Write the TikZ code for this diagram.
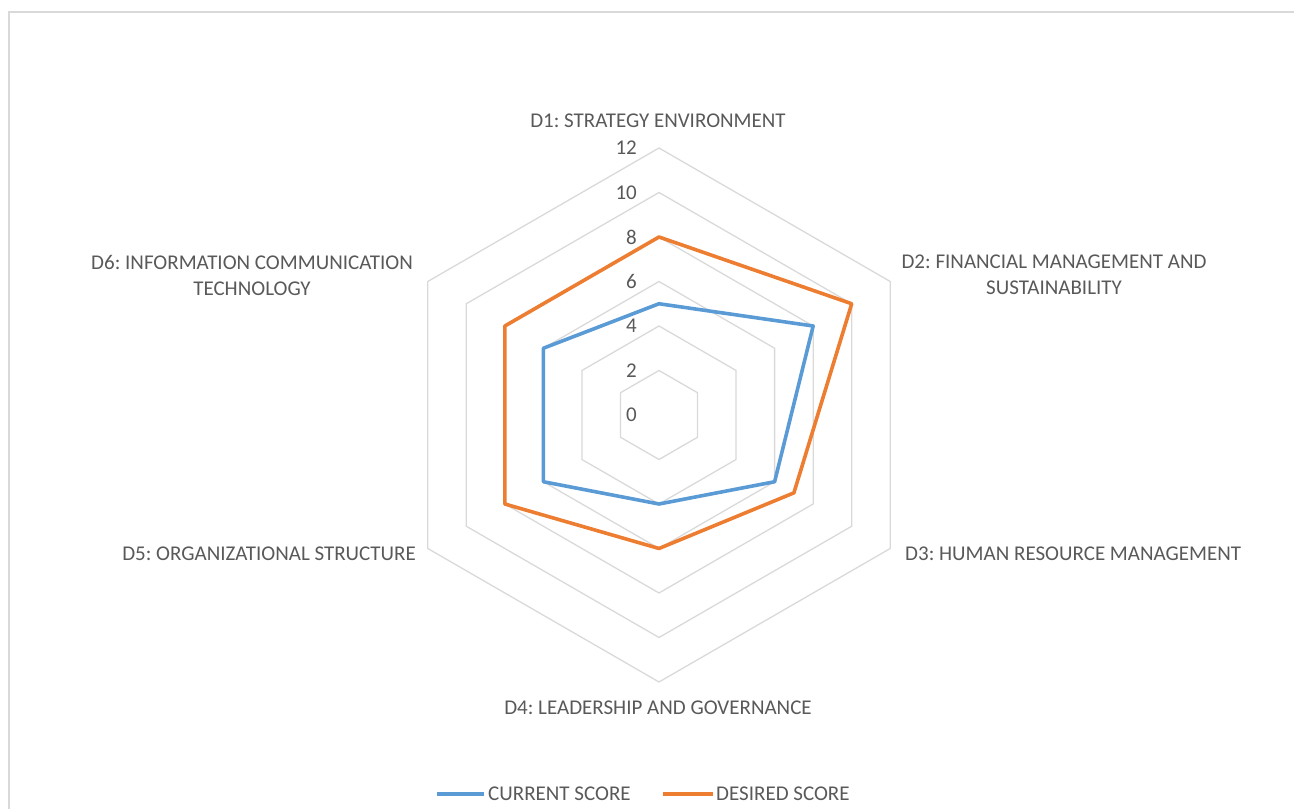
\documentclass[tikz,border=0pt]{standalone}
\usepackage{fontspec}
\setmainfont{Carlito}
\frenchspacing
\definecolor{curblue}{HTML}{5B9BD5}
\definecolor{desorange}{HTML}{ED7D31}
\definecolor{labgray}{HTML}{595959}
\definecolor{gridgray}{HTML}{D9D9D9}

\begin{document}
\begin{tikzpicture}[x=1pt,y=1pt,
    grid/.style={draw=gridgray, line width=1.3pt},
    current/.style={draw=curblue, line width=3.6pt, line join=round},
    desired/.style={draw=desorange, line width=3.6pt, line join=round},
    lab/.style={text=labgray, font=\fontsize{21}{26}\selectfont, inner sep=0pt, align=center},
    tick/.style={text=labgray, font=\fontsize{21}{24}\selectfont, inner sep=0pt, anchor=east}]
    \useasboundingbox (0,0) rectangle (1294,809);
    \draw[gridgray, line width=2pt] (9,0) -- (9,797) -- (1294,797);

    \begin{scope}[shift={(659,394)}]
    % grid
    \foreach \r in {2,4,...,12}
        \draw[grid] (90:\r*22.25) -- (30:\r*22.25) -- (-30:\r*22.25)
            -- (-90:\r*22.25) -- (-150:\r*22.25) -- (150:\r*22.25) -- cycle;
    \foreach \v in {0,2,...,12}
        \node[tick] (t\v) at (-22,\v*22.25) {\v};

    % current score
    \coordinate (c1) at (90:5*22.25);
    \coordinate (c2) at (30:8*22.25);
    \coordinate (c3) at (-30:6*22.25);
    \coordinate (c4) at (-90:4*22.25);
    \coordinate (c5) at (-150:6*22.25);
    \coordinate (c6) at (150:6*22.25);
    % desired score
    \coordinate (d1) at (90:8*22.25);
    \coordinate (d2) at (30:10*22.25);
    \coordinate (d3) at (-30:7*22.25);
    \coordinate (d4) at (-90:6*22.25);
    \coordinate (d5) at (-150:8*22.25);
    \coordinate (d6) at (150:8*22.25);

    \draw[current] (c1) -- (c2) -- (c3) -- (c4) -- (c5) -- (c6) -- cycle;
    \draw[desired] (d1) -- (d2) -- (d3) -- (d4) -- (d5) -- (d6) -- cycle;
    \end{scope}

    % axis labels
    \node[lab] (dim1) at (658,688) {D1: STRATEGY ENVIRONMENT};
    \node[lab] (dim2) at (1054,534) {D2: FINANCIAL MANAGEMENT AND\\SUSTAINABILITY};
    \node[lab, anchor=west] (dim3) at (905,255) {D3: HUMAN RESOURCE MANAGEMENT};
    \node[lab] (dim4) at (658,101) {D4: LEADERSHIP AND GOVERNANCE};
    \node[lab, anchor=east] (dim5) at (416,255) {D5: ORGANIZATIONAL STRUCTURE};
    \node[lab] (dim6) at (252,534) {D6: INFORMATION COMMUNICATION\\TECHNOLOGY};

    % legend
    \coordinate (lc1) at (437,15);
    \coordinate (lc2) at (484,15);
    \coordinate (ld1) at (663,15);
    \coordinate (ld2) at (713,15);
    \draw[current] (lc1) -- (lc2);
    \draw[desired] (ld1) -- (ld2);
    \node[lab, anchor=west] (lcur) at (488,15) {CURRENT SCORE};
    \node[lab, anchor=west] (ldes) at (716,15) {DESIRED SCORE};
\end{tikzpicture}
\end{document}
